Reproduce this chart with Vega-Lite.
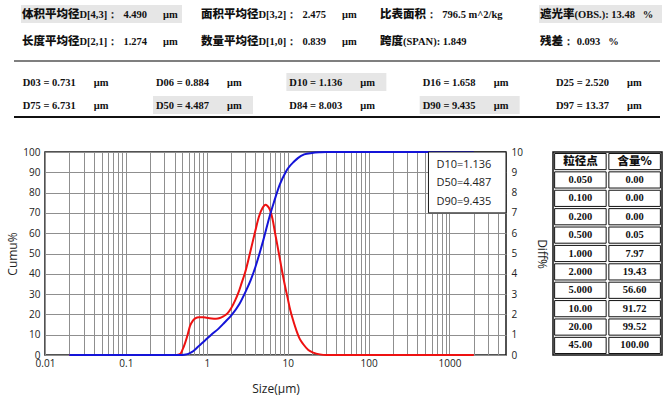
{
  "$schema": "https://vega.github.io/schema/vega-lite/v6.json",
  "padding": {"left": 5, "top": 0, "right": 0, "bottom": 0},
  "background": "white",
  "spacing": 16,
  "config": {
    "view": {"stroke": null},
    "font": "Open Sans",
    "axis": {"labelFont": "Open Sans", "titleFont": "Open Sans", "labelColor": "#222", "titleColor": "#222", "titleFontWeight": "normal"}
  },
  "datasets": {
    "top": [
      {"r": 1, "c": 1, "cjk": "体积平均径", "rest": "D[4,3]：\u00a0\u00a04.490", "unit": "μm"},
      {"r": 1, "c": 2, "cjk": "面积平均径", "rest": "D[3,2]：\u00a0\u00a02.475", "unit": "μm"},
      {"r": 1, "c": 3, "cjk": "比表面积", "rest": "：\u00a0\u00a0796.5\u00a0m^2/kg", "unit": ""},
      {"r": 1, "c": 4, "cjk": "遮光率", "rest": "(OBS.):\u00a013.48\u00a0\u00a0\u00a0%", "unit": ""},
      {"r": 2, "c": 1, "cjk": "长度平均径", "rest": "D[2,1]：\u00a0\u00a01.274", "unit": "μm"},
      {"r": 2, "c": 2, "cjk": "数量平均径", "rest": "D[1,0]：\u00a0\u00a00.839", "unit": "μm"},
      {"r": 2, "c": 3, "cjk": "跨度", "rest": "(SPAN):\u00a01.849", "unit": ""},
      {"r": 2, "c": 4, "cjk": "残差", "rest": "：\u00a00.093\u00a0\u00a0\u00a0%", "unit": ""}
    ],
    "lower": [
      {"r": 4, "c": 1, "name": "D03", "label": "D03\u00a0=\u00a00.731"},
      {"r": 4, "c": 2, "name": "D06", "label": "D06\u00a0=\u00a00.884"},
      {"r": 4, "c": 3, "name": "D10", "label": "D10\u00a0=\u00a01.136"},
      {"r": 4, "c": 4, "name": "D16", "label": "D16\u00a0=\u00a01.658"},
      {"r": 4, "c": 5, "name": "D25", "label": "D25\u00a0=\u00a02.520"},
      {"r": 5, "c": 1, "name": "D75", "label": "D75\u00a0=\u00a06.731"},
      {"r": 5, "c": 2, "name": "D50", "label": "D50\u00a0=\u00a04.487"},
      {"r": 5, "c": 3, "name": "D84", "label": "D84\u00a0=\u00a08.003"},
      {"r": 5, "c": 4, "name": "D90", "label": "D90\u00a0=\u00a09.435"},
      {"r": 5, "c": 5, "name": "D97", "label": "D97\u00a0=\u00a013.37"}
    ],
    "cumu": [
      {"size": 0.02, "cumu": 0}, {"size": 0.1, "cumu": 0}, {"size": 0.3, "cumu": 0}, {"size": 0.45, "cumu": 0},
      {"size": 0.5, "cumu": 0.05}, {"size": 0.55, "cumu": 0.25}, {"size": 0.6, "cumu": 0.7}, {"size": 0.65, "cumu": 1.4},
      {"size": 0.731, "cumu": 3}, {"size": 0.8, "cumu": 4.5}, {"size": 0.884, "cumu": 6}, {"size": 1.0, "cumu": 7.97},
      {"size": 1.136, "cumu": 10}, {"size": 1.4, "cumu": 13}, {"size": 1.658, "cumu": 16}, {"size": 2.0, "cumu": 19.43},
      {"size": 2.52, "cumu": 25}, {"size": 3.0, "cumu": 31}, {"size": 3.5, "cumu": 37}, {"size": 4.0, "cumu": 43.5},
      {"size": 4.487, "cumu": 50}, {"size": 5.0, "cumu": 56.6}, {"size": 6.0, "cumu": 68.5}, {"size": 6.731, "cumu": 75},
      {"size": 8.003, "cumu": 84}, {"size": 9.435, "cumu": 90}, {"size": 10, "cumu": 91.72}, {"size": 12, "cumu": 95.3},
      {"size": 13.37, "cumu": 97}, {"size": 16, "cumu": 98.8}, {"size": 20, "cumu": 99.52}, {"size": 25, "cumu": 99.85},
      {"size": 30, "cumu": 100}, {"size": 45, "cumu": 100}, {"size": 100, "cumu": 100}, {"size": 1000, "cumu": 100},
      {"size": 2000, "cumu": 100}
    ],
    "diff": [
      {"size": 0.02, "diff": 0}, {"size": 0.1, "diff": 0}, {"size": 0.3, "diff": 0}, {"size": 0.42, "diff": 0},
      {"size": 0.47, "diff": 0.05}, {"size": 0.5, "diff": 0.25}, {"size": 0.54, "diff": 0.6}, {"size": 0.58, "diff": 1.0},
      {"size": 0.62, "diff": 1.43}, {"size": 0.67, "diff": 1.68}, {"size": 0.72, "diff": 1.8}, {"size": 0.8, "diff": 1.86},
      {"size": 0.9, "diff": 1.86}, {"size": 1.0, "diff": 1.83}, {"size": 1.15, "diff": 1.8}, {"size": 1.3, "diff": 1.79},
      {"size": 1.45, "diff": 1.82}, {"size": 1.6, "diff": 1.9}, {"size": 1.8, "diff": 2.05}, {"size": 2.0, "diff": 2.3},
      {"size": 2.25, "diff": 2.7}, {"size": 2.46, "diff": 3.07}, {"size": 2.7, "diff": 3.55}, {"size": 2.97, "diff": 4.05},
      {"size": 3.43, "diff": 5.04}, {"size": 3.95, "diff": 6.06}, {"size": 4.4, "diff": 6.8}, {"size": 4.9, "diff": 7.25},
      {"size": 5.3, "diff": 7.4}, {"size": 5.6, "diff": 7.35}, {"size": 6.04, "diff": 7.15}, {"size": 6.5, "diff": 6.7},
      {"size": 6.97, "diff": 6.03}, {"size": 7.5, "diff": 5.35}, {"size": 8.03, "diff": 4.71}, {"size": 8.6, "diff": 4.05},
      {"size": 9.27, "diff": 3.4}, {"size": 10, "diff": 2.8}, {"size": 10.7, "diff": 2.25}, {"size": 11.8, "diff": 1.65},
      {"size": 12.9, "diff": 1.18}, {"size": 14, "diff": 0.82}, {"size": 15.6, "diff": 0.53}, {"size": 18, "diff": 0.25},
      {"size": 20.7, "diff": 0.12}, {"size": 25, "diff": 0.03}, {"size": 30, "diff": 0}, {"size": 100, "diff": 0},
      {"size": 1000, "diff": 0}, {"size": 2000, "diff": 0}
    ],
    "legend": [
      {"k": 1, "t": "D10=1.136"},
      {"k": 2, "t": "D50=4.487"},
      {"k": 3, "t": "D90=9.435"}
    ],
    "table": [
      {"i": 0, "size": "粒径点", "pct": "含量%"},
      {"i": 1, "size": "0.050", "pct": "0.00"},
      {"i": 2, "size": "0.100", "pct": "0.00"},
      {"i": 3, "size": "0.200", "pct": "0.00"},
      {"i": 4, "size": "0.500", "pct": "0.05"},
      {"i": 5, "size": "1.000", "pct": "7.97"},
      {"i": 6, "size": "2.000", "pct": "19.43"},
      {"i": 7, "size": "5.000", "pct": "56.60"},
      {"i": 8, "size": "10.00", "pct": "91.72"},
      {"i": 9, "size": "20.00", "pct": "99.52"},
      {"i": 10, "size": "45.00", "pct": "100.00"}
    ]
  },
  "vconcat": [
    {
      "width": 600,
      "height": 130,
      "resolve": {"scale": {"x": "independent", "y": "independent"}},
      "layer": [
        {
          "data": {"name": "top"},
          "transform": [{"filter": "datum.r == 1 && datum.c == 1"}],
          "mark": {"type": "rect", "fill": "#e6e6e6", "xOffset": -1, "x2Offset": 160, "yOffset": -9, "y2Offset": 9},
          "encoding": {
            "x": {"field": "c", "type": "quantitative", "scale": {"domain": [1, 2, 3, 4], "range": [-23, 156, 335, 495], "nice": false, "zero": false}, "axis": null},
            "x2": {"field": "c"},
            "y": {"field": "r", "type": "quantitative", "scale": {"domain": [1, 2, 3, 4, 5, 6], "range": [14, 41, 61, 82, 105, 117], "nice": false, "zero": false}, "axis": null},
            "y2": {"field": "r"}
          }
        },
        {
          "data": {"name": "top"},
          "transform": [{"filter": "datum.r == 1 && datum.c == 4"}],
          "mark": {"type": "rect", "fill": "#e6e6e6", "xOffset": -1, "x2Offset": 122, "yOffset": -9, "y2Offset": 9},
          "encoding": {
            "x": {"field": "c", "type": "quantitative", "scale": {"domain": [1, 2, 3, 4], "range": [-23, 156, 335, 495], "nice": false, "zero": false}, "axis": null},
            "x2": {"field": "c"},
            "y": {"field": "r", "type": "quantitative", "scale": {"domain": [1, 2, 3, 4, 5, 6], "range": [14, 41, 61, 82, 105, 117], "nice": false, "zero": false}, "axis": null},
            "y2": {"field": "r"}
          }
        },
        {
          "data": {"name": "lower"},
          "transform": [{"filter": "indexof(['D10','D50','D90'], datum.name) >= 0"}],
          "mark": {"type": "rect", "fill": "#e6e6e6", "xOffset": -3, "x2Offset": 97, "yOffset": -9, "y2Offset": 9},
          "encoding": {
            "x": {"field": "c", "type": "quantitative", "scale": {"domain": [1, 5], "range": [-22.3, 511], "nice": false, "zero": false}, "axis": null},
            "x2": {"field": "c"},
            "y": {"field": "r", "type": "quantitative", "scale": {"domain": [1, 2, 3, 4, 5, 6], "range": [14, 41, 61, 82, 105, 117], "nice": false, "zero": false}, "axis": null},
            "y2": {"field": "r"}
          }
        },
        {
          "data": {"name": "top"},
          "mark": {"type": "text", "font": "Noto Sans CJK SC", "fontWeight": 900, "fontSize": 11.5, "align": "left", "baseline": "alphabetic", "dy": 4, "color": "#111"},
          "encoding": {
            "x": {"field": "c", "type": "quantitative", "scale": {"domain": [1, 2, 3, 4], "range": [-23, 156, 335, 495], "nice": false, "zero": false}, "axis": null},
            "y": {"field": "r", "type": "quantitative", "scale": {"domain": [1, 2, 3, 4, 5, 6], "range": [14, 41, 61, 82, 105, 117], "nice": false, "zero": false}, "axis": null},
            "text": {"field": "cjk"}
          }
        },
        {
          "data": {"name": "top"},
          "mark": {"type": "text", "font": "Liberation Serif", "fontWeight": "bold", "fontSize": 10.5, "align": "left", "baseline": "alphabetic", "dy": 4, "color": "#111", "dx": {"expr": "length(datum.cjk) * 11.5"}},
          "encoding": {
            "x": {"field": "c", "type": "quantitative", "scale": {"domain": [1, 2, 3, 4], "range": [-23, 156, 335, 495], "nice": false, "zero": false}, "axis": null},
            "y": {"field": "r", "type": "quantitative", "scale": {"domain": [1, 2, 3, 4, 5, 6], "range": [14, 41, 61, 82, 105, 117], "nice": false, "zero": false}, "axis": null},
            "text": {"field": "rest"}
          }
        },
        {
          "data": {"name": "top"},
          "transform": [{"filter": "datum.unit != ''"}],
          "mark": {"type": "text", "font": "Liberation Serif", "fontWeight": "bold", "fontSize": 10.5, "align": "left", "baseline": "alphabetic", "dy": 4, "dx": 141, "color": "#111"},
          "encoding": {
            "x": {"field": "c", "type": "quantitative", "scale": {"domain": [1, 2, 3, 4], "range": [-23, 156, 335, 495], "nice": false, "zero": false}, "axis": null},
            "y": {"field": "r", "type": "quantitative", "scale": {"domain": [1, 2, 3, 4, 5, 6], "range": [14, 41, 61, 82, 105, 117], "nice": false, "zero": false}, "axis": null},
            "text": {"field": "unit"}
          }
        },
        {
          "data": {"name": "lower"},
          "mark": {"type": "text", "font": "Liberation Serif", "fontWeight": "bold", "fontSize": 10.5, "align": "left", "baseline": "alphabetic", "dy": 4, "color": "#111"},
          "encoding": {
            "x": {"field": "c", "type": "quantitative", "scale": {"domain": [1, 5], "range": [-22.3, 511], "nice": false, "zero": false}, "axis": null},
            "y": {"field": "r", "type": "quantitative", "scale": {"domain": [1, 2, 3, 4, 5, 6], "range": [14, 41, 61, 82, 105, 117], "nice": false, "zero": false}, "axis": null},
            "text": {"field": "label"}
          }
        },
        {
          "data": {"name": "lower"},
          "mark": {"type": "text", "font": "Liberation Serif", "fontWeight": "bold", "fontSize": 10.5, "align": "left", "baseline": "alphabetic", "dy": 4, "dx": 71, "color": "#111"},
          "encoding": {
            "x": {"field": "c", "type": "quantitative", "scale": {"domain": [1, 5], "range": [-22.3, 511], "nice": false, "zero": false}, "axis": null},
            "y": {"field": "r", "type": "quantitative", "scale": {"domain": [1, 2, 3, 4, 5, 6], "range": [14, 41, 61, 82, 105, 117], "nice": false, "zero": false}, "axis": null},
            "text": {"value": "μm"}
          }
        },
        {
          "data": {"values": [{}]},
          "mark": {"type": "rule", "stroke": "#555", "strokeWidth": 1.5, "xOffset": -8, "x2Offset": 120},
          "encoding": {
            "x": {"datum": 1, "type": "quantitative", "scale": {"domain": [1, 2, 3, 4], "range": [-23, 156, 335, 495], "nice": false, "zero": false}, "axis": null},
            "x2": {"datum": 4},
            "y": {"datum": 3, "type": "quantitative", "scale": {"domain": [1, 2, 3, 4, 5, 6], "range": [14, 41, 61, 82, 105, 117], "nice": false, "zero": false}, "axis": null}
          }
        },
        {
          "data": {"values": [{}]},
          "mark": {"type": "rule", "stroke": "#111", "strokeWidth": 1.8, "xOffset": -8, "x2Offset": 120},
          "encoding": {
            "x": {"datum": 1, "type": "quantitative", "scale": {"domain": [1, 2, 3, 4], "range": [-23, 156, 335, 495], "nice": false, "zero": false}, "axis": null},
            "x2": {"datum": 4},
            "y": {"datum": 6, "type": "quantitative", "scale": {"domain": [1, 2, 3, 4, 5, 6], "range": [14, 41, 61, 82, 105, 117], "nice": false, "zero": false}, "axis": null}
          }
        }
      ]
    },
    {
      "spacing": 4,
      "hconcat": [
        {
          "width": 461,
          "height": 203,
          "view": {"stroke": "#1a1a1a", "strokeWidth": 1.5},
          "resolve": {"scale": {"y": "independent"}},
          "layer": [
            {
              "data": {"name": "diff"},
              "mark": {"type": "line", "color": "#ee1111", "strokeWidth": 2, "interpolate": "monotone"},
              "encoding": {
                "x": {
                  "field": "size", "type": "quantitative",
                  "scale": {"type": "log", "domain": [0.01, 5000], "nice": false},
                  "axis": {
                    "title": "Size(μm)",
                    "values": [0.01, 0.02, 0.03, 0.04, 0.05, 0.06, 0.07, 0.08, 0.09, 0.1, 0.2, 0.3, 0.4, 0.5, 0.6, 0.7, 0.8, 0.9, 1, 2, 3, 4, 5, 6, 7, 8, 9, 10, 20, 30, 40, 50, 60, 70, 80, 90, 100, 200, 300, 400, 500, 600, 700, 800, 900, 1000, 2000, 3000, 4000],
                    "format": "~g",
                    "labelExpr": "indexof([0.01, 0.1, 1, 10, 100, 1000], datum.value) >= 0 ? datum.label : ''",
                    "labelOverlap": false, "labelFlush": false,
                    "grid": true, "gridColor": "#8f8f8f", "gridWidth": 1, "gridOpacity": 1,
                    "ticks": false, "domain": false,
                    "labelPadding": 3, "titlePadding": 15, "labelFontSize": 10, "titleFontSize": 12
                  }
                },
                "y": {
                  "field": "diff", "type": "quantitative",
                  "scale": {"domain": [0, 10], "nice": false},
                  "axis": {"title": "Diff%", "orient": "right", "values": [0, 1, 2, 3, 4, 5, 6, 7, 8, 9, 10], "grid": false, "ticks": false, "domain": false, "labelPadding": 5, "minExtent": 22, "maxExtent": 22, "titlePadding": 6, "labelFontSize": 10, "titleFontSize": 12}
                }
              }
            },
            {
              "data": {"name": "cumu"},
              "mark": {"type": "line", "color": "#1414d8", "strokeWidth": 2, "interpolate": "monotone"},
              "encoding": {
                "x": {"field": "size", "type": "quantitative"},
                "y": {
                  "field": "cumu", "type": "quantitative",
                  "scale": {"domain": [0, 100], "nice": false},
                  "axis": {"title": "Cumu%", "orient": "left", "values": [0, 10, 20, 30, 40, 50, 60, 70, 80, 90, 100], "grid": true, "gridColor": "#8f8f8f", "gridOpacity": 1, "ticks": false, "domain": false, "labelPadding": 5, "minExtent": 22, "maxExtent": 22, "titlePadding": 4, "labelFontSize": 10, "titleFontSize": 12}
                }
              }
            },
            {
              "data": {"values": [{}]},
              "mark": {"type": "rect", "fill": "white", "stroke": "#1a1a1a", "strokeWidth": 1},
              "encoding": {
                "x": {"datum": 550, "type": "quantitative"},
                "x2": {"datum": 5000},
                "y": {"datum": 70, "type": "quantitative", "scale": {"domain": [0, 100], "nice": false}, "axis": null},
                "y2": {"datum": 100}
              }
            },
            {
              "data": {"name": "legend"},
              "mark": {"type": "text", "font": "Open Sans", "fontSize": 11, "align": "left", "baseline": "middle", "color": "#222"},
              "encoding": {
                "x": {"datum": 690, "type": "quantitative"},
                "y": {"field": "k", "type": "quantitative", "scale": {"domain": [0.27, 11.42], "reverse": true, "nice": false, "zero": false}, "axis": null},
                "text": {"field": "t"}
              }
            }
          ]
        },
        {
          "width": 109,
          "height": 203,
          "title": {"text": " ", "fontSize": 2, "offset": 2},
          "view": {"stroke": "#111", "strokeWidth": 1.5},
          "data": {"name": "table"},
          "transform": [{"fold": ["size", "pct"], "as": ["key", "val"]}],
          "encoding": {
            "x": {"field": "key", "type": "nominal", "scale": {"domain": ["size", "pct"], "paddingInner": 0.05, "paddingOuter": 0.03}, "axis": null},
            "y": {"field": "i", "type": "ordinal", "scale": {"paddingInner": 0.12, "paddingOuter": 0.08}, "axis": null}
          },
          "layer": [
            {"mark": {"type": "rect", "fill": "white", "stroke": "#111", "strokeWidth": 1}},
            {
              "transform": [{"filter": "datum.i == 0"}],
              "mark": {"type": "text", "font": "Noto Sans CJK SC", "fontWeight": 900, "fontSize": 11.5, "color": "#111"},
              "encoding": {"text": {"field": "val"}}
            },
            {
              "transform": [{"filter": "datum.i > 0"}],
              "mark": {"type": "text", "font": "Liberation Serif", "fontWeight": "bold", "fontSize": 10.5, "color": "#111"},
              "encoding": {"text": {"field": "val"}}
            }
          ]
        }
      ]
    }
  ]
}
